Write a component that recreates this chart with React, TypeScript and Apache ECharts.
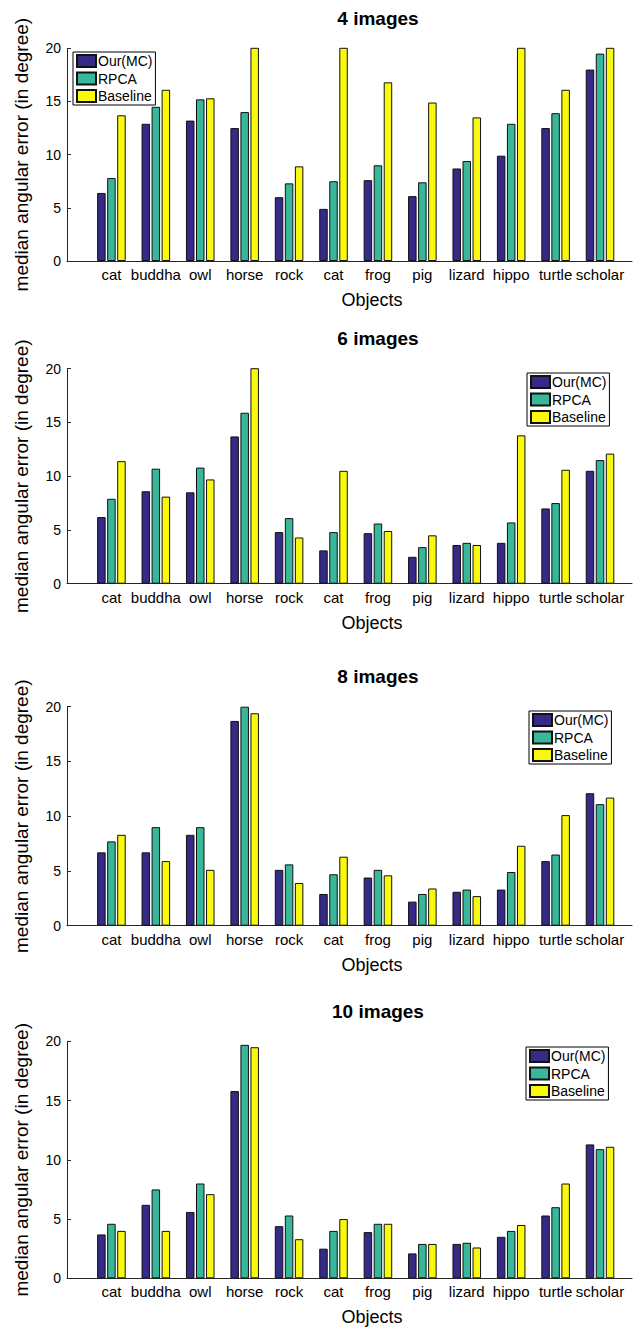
import React, { useEffect, useRef } from "react";
import * as echarts from "echarts";

// Objects evaluated (x-axis categories)
const objects = [
  "cat", "buddha", "owl", "horse", "rock", "cat",
  "frog", "pig", "lizard", "hippo", "turtle", "scholar",
];

const methods = ["Our(MC)", "RPCA", "Baseline"];
const methodColors = ["#352a87", "#38b79b", "#f9f90e"];

// Median angular error (degrees) per object, one array per method and image count.
// Values above 20 run past the top of the 0–20 axis and are clipped there.
const our4 = [6.4, 12.9, 13.2, 12.5, 6.0, 4.9, 7.6, 6.1, 8.7, 9.9, 12.5, 18.0];
const rpca4 = [7.8, 14.5, 15.2, 14.0, 7.3, 7.5, 9.0, 7.4, 9.4, 12.9, 13.9, 19.5];
const base4 = [13.7, 16.1, 15.3, 21.0, 8.9, 21.0, 16.8, 14.9, 13.5, 21.0, 16.1, 21.0];

const our6 = [6.2, 8.6, 8.5, 13.7, 4.8, 3.1, 4.7, 2.5, 3.6, 3.8, 7.0, 10.5];
const rpca6 = [7.9, 10.7, 10.8, 15.9, 6.1, 4.8, 5.6, 3.4, 3.8, 5.7, 7.5, 11.5];
const base6 = [11.4, 8.1, 9.7, 20.5, 4.3, 10.5, 4.9, 4.5, 3.6, 13.8, 10.6, 12.1];

const our8 = [6.7, 6.7, 8.3, 18.7, 5.1, 2.9, 4.4, 2.2, 3.1, 3.3, 5.9, 12.1];
const rpca8 = [7.7, 9.0, 9.0, 20.0, 5.6, 4.7, 5.1, 2.9, 3.3, 4.9, 6.5, 11.1];
const base8 = [8.3, 5.9, 5.1, 19.4, 3.9, 6.3, 4.6, 3.4, 2.7, 7.3, 10.1, 11.7];

const our10 = [3.7, 6.2, 5.6, 15.8, 4.4, 2.5, 3.9, 2.1, 2.9, 3.5, 5.3, 11.3];
const rpca10 = [4.6, 7.5, 8.0, 19.7, 5.3, 4.0, 4.6, 2.9, 3.0, 4.0, 6.0, 10.9];
const base10 = [4.0, 4.0, 7.1, 19.5, 3.3, 5.0, 4.6, 2.9, 2.6, 4.5, 8.0, 11.1];

const panelTitles = ["4 images", "6 images", "8 images", "10 images"];
const panelData = [
  [our4, rpca4, base4],
  [our6, rpca6, base6],
  [our8, rpca8, base8],
  [our10, rpca10, base10],
];

const yTickMax = 20;
const yTickStep = 5;

// Layout of the four stacked panels (pixels)
const panels = [
  { top: 48.3, height: 212.7, titleY: 19, legend: { left: 73, top: 52 } },
  { top: 368.7, height: 215, titleY: 339, legend: { left: 527, top: 373 } },
  { top: 706.7, height: 219, titleY: 677, legend: { left: 529, top: 711 } },
  { top: 1041.3, height: 237, titleY: 1012, legend: { left: 526, top: 1047 } },
];

const FONT = "'Liberation Sans', Arial, Helvetica, sans-serif";
const GRID_LEFT = 67;
const GRID_WIDTH = 565;
const X_MAX = 12.72;

export default function App() {
  const ref = useRef<HTMLDivElement>(null);

  useEffect(() => {
    if (!ref.current) return;
    const chart = echarts.init(ref.current, null, { renderer: "svg" });

    const grid: any[] = [];
    const xAxis: any[] = [];
    const yAxis: any[] = [];
    const title: any[] = [];
    const legend: any[] = [];
    const series: any[] = [];

    panels.forEach((p, pi) => {
      grid.push({
        left: GRID_LEFT,
        top: p.top,
        width: GRID_WIDTH,
        height: p.height,
        containLabel: false,
      });
      xAxis.push({
        gridIndex: pi,
        type: "value",
        min: 0,
        max: X_MAX,
        interval: 1,
        name: "Objects",
        nameLocation: "middle",
        nameGap: 30,
        nameTextStyle: {
          fontSize: 18,
          color: "#000",
          fontFamily: FONT,
          padding: [0, 0, 0, 45],
        },
        axisLine: { show: true, lineStyle: { color: "#262626", width: 1 } },
        axisTick: { show: false },
        splitLine: { show: false },
        axisLabel: {
          margin: 6,
          fontSize: 15,
          color: "#000",
          fontFamily: FONT,
          showMaxLabel: false,
          formatter: (v: number) =>
            Number.isInteger(v) && v >= 1 && v <= objects.length ? objects[v - 1] : "",
        },
      });
      yAxis.push({
        gridIndex: pi,
        type: "value",
        min: 0,
        max: yTickMax,
        interval: yTickStep,
        name: "median angular error (in degree)",
        nameLocation: "middle",
        nameRotate: 90,
        nameGap: 36,
        nameTextStyle: { fontSize: 19, color: "#000", fontFamily: FONT },
        axisLine: { show: true, lineStyle: { color: "#262626", width: 1 } },
        axisTick: { show: true, inside: true, length: 4, lineStyle: { color: "#262626" } },
        splitLine: { show: false },
        axisLabel: { margin: 6, fontSize: 14, color: "#000", fontFamily: FONT },
      });
      title.push({
        text: panelTitles[pi],
        left: 378,
        top: p.titleY - 10,
        textAlign: "center",
        padding: 0,
        textStyle: { fontSize: 19, fontWeight: "bold", color: "#000", fontFamily: FONT },
      });
      legend.push({
        left: p.legend.left,
        top: p.legend.top,
        orient: "vertical",
        data: methods,
        icon: "rect",
        itemWidth: 19,
        itemHeight: 12,
        itemGap: 3.5,
        padding: [2, 3, 2, 3],
        borderColor: "#000",
        borderWidth: 1,
        borderRadius: 0,
        backgroundColor: "#fff",
        selectedMode: false,
        textStyle: { fontSize: 14, color: "#000", fontFamily: FONT, padding: [0, 0, 0, -3] },
      });
      panelData[pi].forEach((vals, mi) => {
        series.push({
          type: "bar",
          name: methods[mi],
          xAxisIndex: pi,
          yAxisIndex: pi,
          clip: true,
          barWidth: 8.5,
          barGap: "18%",
          data: vals.map((v, i) => [i + 1, v]),
          itemStyle: {
            color: methodColors[mi],
            borderColor: "#111",
            borderWidth: 1,
          },
        });
      });
    });

    chart.setOption({
      animation: false,
      backgroundColor: "#fff",
      textStyle: { fontFamily: FONT },
      grid,
      xAxis,
      yAxis,
      title,
      legend,
      series,
    });

    return () => chart.dispose();
  }, []);

  return (
    <div
      ref={ref}
      style={{ position: "absolute", left: 0, top: 0, width: 638, height: 1330, background: "#fff" }}
    />
  );
}
